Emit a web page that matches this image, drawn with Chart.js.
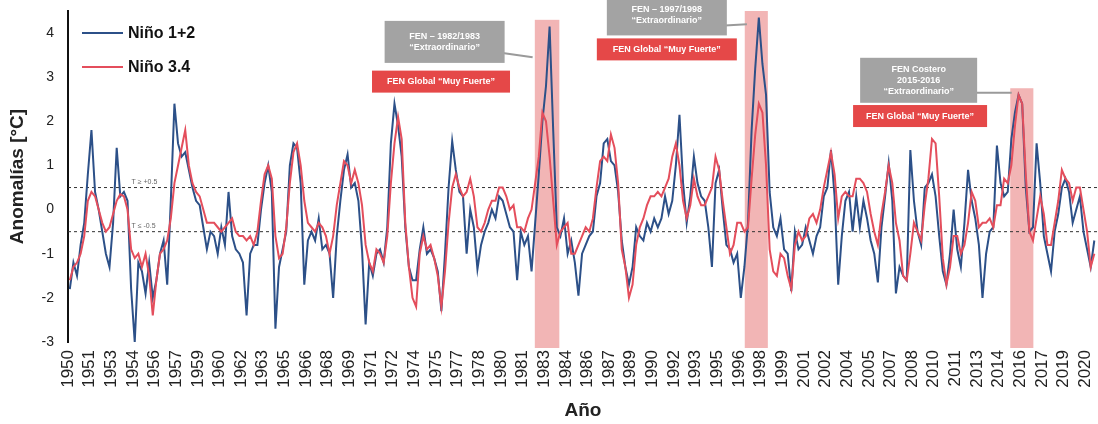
<!DOCTYPE html>
<html lang="es">
<head>
<meta charset="utf-8">
<title>Anomalías Niño 1+2 y Niño 3.4</title>
<script src="https://cdn.jsdelivr.net/npm/chart.js@4.4.0/dist/chart.umd.min.js"></script>
<style>
  html, body { margin: 0; padding: 0; background: #fff; }
</style>
</head>
<body>
<canvas id="myChart" width="1098" height="424"></canvas>
<script>
// valores trimestrales (ene-mar, abr-jun, jul-sep, oct-dic) desde 1950
var startYear = 1950;

var nino12 = [
  -1.8, -1.2, -1.5, -0.8,   // 1950
  -0.3, 0.8, 1.8, 0.4,
  0.0, -0.5, -1.0, -1.3,
  -0.3, 1.4, 0.3, 0.4,
  0.2, -1.8, -3.0, -1.2,
  -1.4, -1.9, -1.2, -2.0,   // 1955
  -1.6, -1.0, -0.7, -1.7,
  0.2, 2.4, 1.5, 1.2,
  1.3, 0.9, 0.5, 0.2,
  0.1, -0.4, -0.9, -0.5,
  -0.6, -1.0, -0.4, -0.8,   // 1960
  0.4, -0.6, -0.9, -1.0,
  -1.2, -2.4, -1.0, -0.8,
  -0.8, 0.0, 0.6, 1.0,
  0.4, -2.7, -1.3, -0.9,
  -0.5, 1.0, 1.5, 1.4,      // 1965
  0.6, -1.7, -0.7, -0.5,
  -0.7, -0.2, -0.9, -0.8,
  -1.0, -2.0, -0.6, 0.2,
  0.9, 1.25, 0.5, 0.6,
  0.2, -0.9, -2.6, -1.2,    // 1970
  -1.5, -1.0, -0.9, -1.2,
  -0.4, 1.5, 2.4, 1.9,
  1.2, -0.4, -1.3, -1.6,
  -1.6, -0.9, -0.4, -1.0,
  -0.9, -1.1, -1.4, -2.3,   // 1975
  -1.0, 0.5, 1.55, 0.9,
  0.4, 0.3, -1.0, 0.0,
  -0.4, -1.35, -0.8, -0.5,
  -0.3, 0.0, -0.2, 0.3,
  0.2, -0.1, -0.4, -0.5,    // 1980
  -1.6, -0.5, -0.8, -0.6,
  -1.4, -0.3, 0.8, 2.0,
  2.8, 4.15, 1.8, -0.4,
  -0.6, -0.2, -1.0, -0.7,
  -1.2, -1.95, -1.0, -0.8,  // 1985
  -0.6, -0.5, 0.3, 0.6,
  1.5, 1.6, 1.1, 1.0,
  0.4, -0.7, -1.3, -1.7,
  -1.3, -0.4, -0.6, -0.7,
  -0.3, -0.5, -0.2, -0.4,   // 1990
  -0.2, 0.3, -0.1, 0.2,
  1.0, 2.15, 0.6, -0.3,
  0.3, 1.2, 0.6, 0.3,
  0.2, -0.4, -1.3, 0.6,
  0.9, 0.0, -0.8, -0.9,     // 1995
  -1.2, -1.0, -2.0, -1.3,
  -0.3, 1.8, 3.2, 4.35,
  3.3, 2.6, 0.4, -0.4,
  -0.6, -0.2, -0.9, -1.0,
  -1.85, -0.5, -0.9, -0.8,  // 2000
  -0.4, -0.7, -1.0, -0.6,
  -0.4, 0.3, 0.5, 1.35,
  0.3, -1.7, -0.6, 0.2,
  0.4, -0.5, 0.3, -0.4,
  0.2, -0.2, -0.7, -1.0,    // 2005
  -1.65, -0.4, 0.3, 1.05,
  0.2, -1.9, -1.3, -1.5,
  -1.6, 1.35, 0.2, -0.5,
  -0.8, 0.5, 0.6, 0.8,
  0.3, -0.6, -1.4, -1.7,    // 2010
  -1.0, 0.0, -0.9, -1.3,
  -0.3, 0.9, 0.2, -0.2,
  -0.8, -2.0, -1.0, -0.5,
  -0.4, 1.45, 0.6, 0.3,
  0.4, 1.6, 2.2, 2.6,       // 2015
  2.4, 0.5, -0.5, -0.4,
  1.5, 0.6, -0.6, -1.0,
  -1.4, -0.5, -0.1, 0.5,
  0.7, 0.4, -0.3, 0.0,
  0.3, -0.5, -0.9, -1.3,    // 2020
  -0.7
];

var nino34 = [
  -1.6, -1.3, -1.2, -1.0,   // 1950
  -0.6, 0.2, 0.4, 0.3,
  0.0, -0.3, -0.5, -0.4,
  -0.1, 0.2, 0.35, 0.3,
  0.0, -0.9, -1.1, -1.0,
  -1.3, -1.0, -1.5, -2.4,   // 1955
  -1.6, -1.0, -0.9, -0.7,
  -0.2, 0.6, 1.0, 1.4,
  1.8, 1.0, 0.6, 0.4,
  0.3, 0.0, -0.3, -0.3,
  -0.3, -0.4, -0.5, -0.4,   // 1960
  -0.3, -0.2, -0.5, -0.6,
  -0.6, -0.7, -0.6, -0.8,
  -0.5, 0.2, 0.8, 1.0,
  0.7, -0.6, -1.1, -1.0,
  -0.4, 0.6, 1.3, 1.5,      // 1965
  1.0, 0.2, -0.3, -0.4,
  -0.5, -0.3, -0.4, -0.6,
  -1.0, -0.6, 0.1, 0.6,
  1.1, 1.0, 0.6, 0.9,
  0.6, 0.1, -0.8, -1.2,     // 1970
  -1.4, -0.9, -1.0, -1.2,
  -0.6, 0.6, 1.5, 2.1,
  1.6, -0.3, -1.3, -2.0,
  -2.2, -1.0, -0.6, -0.9,
  -0.8, -1.1, -1.5, -2.2,   // 1975
  -1.4, -0.3, 0.5, 0.8,
  0.5, 0.3, 0.4, 0.7,
  0.3, -0.4, -0.5, -0.3,
  0.0, 0.2, 0.2, 0.5,
  0.5, 0.3, 0.0, 0.1,       // 1980
  -0.4, -0.4, -0.5, -0.2,
  0.0, 0.6, 1.2, 2.2,
  2.0, 1.2, 0.2, -0.8,
  -0.5, -0.4, -0.3, -1.0,
  -1.0, -0.8, -0.6, -0.4,   // 1985
  -0.5, -0.2, 0.5, 1.1,
  1.2, 1.1, 1.7, 1.4,
  0.6, -0.9, -1.3, -2.0,
  -1.7, -0.8, -0.4, -0.2,
  0.1, 0.3, 0.3, 0.4,       // 1990
  0.3, 0.5, 0.7, 1.2,
  1.5, 1.0, 0.2, -0.2,
  0.1, 0.7, 0.3, 0.1,
  0.1, 0.3, 0.5, 1.2,
  0.9, 0.2, -0.4, -1.0,     // 1995
  -0.8, -0.3, -0.3, -0.5,
  -0.4, 0.7, 1.7, 2.4,
  2.2, 1.0, -0.9, -1.4,
  -1.5, -1.0, -1.1, -1.5,
  -1.8, -0.8, -0.5, -0.7,   // 2000
  -0.6, -0.2, -0.1, -0.3,
  0.0, 0.5, 0.9, 1.3,
  0.8, -0.2, 0.3, 0.4,
  0.3, 0.3, 0.7, 0.7,
  0.6, 0.4, -0.1, -0.5,     // 2005
  -0.8, -0.1, 0.4, 1.0,
  0.6, -0.3, -0.7, -1.5,
  -1.6, -1.0, -0.3, -0.5,
  -0.7, 0.1, 0.7, 1.6,
  1.5, 0.3, -1.1, -1.7,     // 2010
  -1.3, -0.6, -0.6, -1.0,
  -0.8, -0.3, 0.4, 0.2,
  -0.4, -0.3, -0.3, -0.2,
  -0.4, 0.1, 0.1, 0.7,
  0.6, 1.0, 1.9, 2.6,       // 2015
  2.4, 0.8, -0.5, -0.7,
  -0.2, 0.3, -0.1, -0.8,
  -0.8, -0.3, 0.2, 0.9,
  0.7, 0.6, 0.2, 0.5,
  0.5, 0.0, -0.5, -1.3,     // 2020
  -1.0
];

// etiquetas del eje x, una cada 18 meses
var tickLabels = ['1950', '1951', '1953', '1954', '1956', '1957', '1959', '1960', '1962', '1963',
  '1965', '1966', '1968', '1969', '1971', '1972', '1974', '1975', '1977', '1978',
  '1980', '1981', '1983', '1984', '1986', '1987', '1989', '1990', '1992', '1993',
  '1995', '1996', '1998', '1999', '2001', '2002', '2004', '2005', '2007', '2008',
  '2010', '2011', '2013', '2014', '2016', '2017', '2019', '2020'];
var yTicks = [-3, -2, -1, 0, 1, 2, 3, 4];

// umbrales de anomalía
var thresholds = [0.5, -0.5];
var thresholdLabels = ['T ≥ +0.5', 'T ≤ -0.5'];

// eventos extraordinarios (inicio, fin en años decimales)
var eventPeriods = [[1982.35, 1984.05], [1996.9, 1998.5], [2015.3, 2016.9]];
var eventTitles = [
  ['FEN – 1982/1983', '“Extraordinario”'],
  ['FEN – 1997/1998', '“Extraordinario”'],
  ['FEN Costero', '2015-2016', '“Extraordinario”']
];
var eventGlobal = ['FEN Global “Muy Fuerte”', 'FEN Global “Muy Fuerte”', 'FEN Global “Muy Fuerte”'];

function toPoints(values) {
  return values.map(function (v, i) {
    return { x: startYear + i / 4 + 0.125, y: v };
  });
}

var FONT = "'Liberation Sans', Arial, sans-serif";
var BLUE = 'rgb(44, 80, 136)';
var RED = 'rgb(228, 78, 92)';

// sin márgenes extra alrededor del área del gráfico
function noPadding(scale) {
  scale.paddingTop = 0;
  scale.paddingBottom = 0;
  scale.paddingLeft = 0;
  scale.paddingRight = 0;
}

// franjas, umbrales, recuadros y leyenda
var decor = {
  id: 'decor',
  beforeDatasetsDraw: function (chart) {
    var ctx = chart.ctx, xs = chart.scales.x, ys = chart.scales.y, area = chart.chartArea;
    ctx.save();
    eventPeriods.forEach(function (p) {
      var peak = -Infinity;
      nino12.forEach(function (v, i) {
        var t = startYear + i / 4 + 0.125;
        if (t >= p[0] && t <= p[1] && v > peak) peak = v;
      });
      var x0 = xs.getPixelForValue(p[0]);
      var x1 = xs.getPixelForValue(p[1]);
      var yTop = ys.getPixelForValue(Math.min(peak + 0.15, ys.max));
      ctx.fillStyle = 'rgba(232, 120, 120, 0.55)';
      ctx.fillRect(x0, yTop, x1 - x0, area.bottom + 6 - yTop);
    });

    ctx.setLineDash([3, 3]);
    ctx.lineWidth = 1;
    ctx.strokeStyle = '#333';
    thresholds.forEach(function (t, i) {
      var y = ys.getPixelForValue(t);
      ctx.beginPath();
      ctx.moveTo(area.left, y);
      ctx.lineTo(area.right, y);
      ctx.stroke();
      ctx.fillStyle = '#666';
      ctx.font = '7px ' + FONT;
      ctx.textBaseline = 'bottom';
      ctx.fillText(thresholdLabels[i], xs.getPixelForValue(1954.4), y - 2);
    });
    ctx.restore();
  },
  afterDatasetsDraw: function (chart, args, opts) {
    var ctx = chart.ctx, xs = chart.scales.x, ys = chart.scales.y;
    ctx.save();
    opts.callouts.forEach(function (c, i) {
      var cx = xs.getPixelForValue(c.x), cy = ys.getPixelForValue(c.y);
      var left = cx - c.w / 2, top = cy - c.h / 2;

      // cola del recuadro gris
      ctx.strokeStyle = '#9a9a9a';
      ctx.lineWidth = 2;
      ctx.beginPath();
      ctx.moveTo(left + c.w - 2, top + c.h - 10);
      ctx.lineTo(xs.getPixelForValue(c.tipX), ys.getPixelForValue(c.tipY));
      ctx.stroke();

      ctx.fillStyle = '#a3a3a3';
      ctx.fillRect(left, top, c.w, c.h);
      ctx.fillStyle = '#fff';
      ctx.font = 'bold 9px ' + FONT;
      ctx.textAlign = 'center';
      ctx.textBaseline = 'middle';
      var lines = eventTitles[i];
      var lh = 11;
      lines.forEach(function (l, k) {
        ctx.fillText(l, cx, cy + (k - (lines.length - 1) / 2) * lh);
      });

      var rx = xs.getPixelForValue(c.rx), ry = ys.getPixelForValue(c.ry);
      ctx.fillStyle = 'rgb(229, 72, 72)';
      ctx.fillRect(rx - c.rw / 2, ry - 11, c.rw, 22);
      ctx.fillStyle = '#fff';
      ctx.fillText(eventGlobal[i], rx, ry);
    });

    // leyenda
    ctx.textAlign = 'left';
    ctx.textBaseline = 'middle';
    ctx.font = 'bold 16px ' + FONT;
    chart.data.datasets.forEach(function (ds, k) {
      var y = 33 + k * 34;
      ctx.strokeStyle = ds.borderColor;
      ctx.lineWidth = 2;
      ctx.beginPath();
      ctx.moveTo(82, y);
      ctx.lineTo(123, y);
      ctx.stroke();
      ctx.fillStyle = '#111';
      ctx.fillText(ds.label, 128, y + 1);
    });
    ctx.restore();
  }
};

var ctx = document.getElementById('myChart').getContext('2d');
var myChart = new Chart(ctx, {
  type: 'line',
  data: {
    datasets: [{
      label: 'Niño 1+2',
      data: toPoints(nino12),
      borderColor: BLUE,
      borderWidth: 2,
      pointRadius: 0,
      tension: 0,
      order: 1
    }, {
      label: 'Niño 3.4',
      data: toPoints(nino34),
      borderColor: RED,
      borderWidth: 2,
      pointRadius: 0,
      tension: 0,
      order: 0
    }]
  },
  options: {
    responsive: false,
    animation: false,
    layout: { padding: { top: 11, right: 0, left: 0, bottom: 0 } },
    plugins: {
      legend: { display: false },
      tooltip: { enabled: false },
      decor: {
        callouts: [
          { x: 1976.1, y: 3.80, w: 120, h: 42, tipX: 1982.2, tipY: 3.45, rx: 1975.85, ry: 2.90, rw: 138 },
          { x: 1991.5, y: 4.40, w: 120, h: 40, tipX: 1997.05, tipY: 4.2, rx: 1991.5, ry: 3.63, rw: 140 },
          { x: 2008.95, y: 2.93, w: 117, h: 45, tipX: 2015.4, tipY: 2.65, rx: 2009.05, ry: 2.12, rw: 134 }
        ]
      }
    },
    scales: {
      x: {
        type: 'linear',
        min: startYear,
        max: 2021.38,
        afterBuildTicks: function (scale) {
          scale.ticks = tickLabels.map(function (l, i) { return { value: startYear + 1.5 * i }; });
        },
        afterFit: function (scale) { scale.height = 82; noPadding(scale); },
        grid: { display: false, drawTicks: false },
        border: { display: false },
        ticks: {
          autoSkip: false,
          minRotation: 90,
          maxRotation: 90,
          padding: 8,
          color: '#222',
          font: { family: FONT, size: 17 },
          callback: function (v, i) { return tickLabels[i]; }
        },
        title: {
          display: true,
          text: 'Año',
          color: '#222',
          font: { family: FONT, size: 19, weight: 'bold' },
          padding: { top: 0, bottom: 2 }
        }
      },
      y: {
        min: -3,
        max: 4.5,
        afterBuildTicks: function (scale) {
          scale.ticks = yTicks.map(function (v) { return { value: v }; });
        },
        afterFit: function (scale) { scale.width = 68; noPadding(scale); },
        grid: { display: false, drawTicks: false },
        border: { display: true, color: '#111', width: 2 },
        ticks: {
          padding: 14,
          color: '#222',
          font: { family: FONT, size: 14 }
        },
        title: {
          display: true,
          text: 'Anomalías [°C]',
          color: '#222',
          font: { family: FONT, size: 19, weight: 'bold' },
          padding: { top: 6, bottom: 0 }
        }
      }
    }
  },
  plugins: [decor]
});
</script>
</body>
</html>
